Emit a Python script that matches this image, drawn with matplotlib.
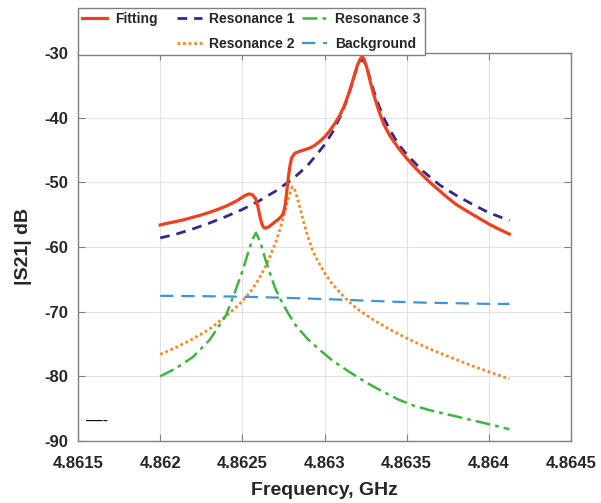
import numpy as np
import matplotlib
matplotlib.use("Agg")
import matplotlib.pyplot as plt
from matplotlib.lines import Line2D

plt.rcParams['font.family'] = ['Liberation Sans', 'DejaVu Sans']
plt.rcParams['font.weight'] = 'bold'
plt.rcParams['axes.unicode_minus'] = False

# Fitting curve (red)
fit_f = [4.86200, 4.86205, 4.86210, 4.86215, 4.86220, 4.86225, 4.86230, 4.86235,
         4.86240, 4.86244, 4.86247, 4.86250, 4.86252, 4.86254, 4.86256, 4.86258,
         4.86259, 4.86260, 4.86261, 4.86262, 4.86263, 4.86264, 4.86266, 4.86268,
         4.86270, 4.86272, 4.86274, 4.86275, 4.86276, 4.86277, 4.86278, 4.86279,
         4.86280, 4.86282, 4.86285, 4.86288, 4.86291, 4.86294, 4.86297, 4.86300,
         4.86303, 4.86306, 4.86309, 4.86312, 4.86315, 4.86318, 4.86320, 4.86322,
         4.86323, 4.86324, 4.86326, 4.86328, 4.86330, 4.86333, 4.86336, 4.86340,
         4.86345, 4.86350, 4.86355, 4.86360, 4.86365, 4.86370, 4.86375, 4.86380,
         4.86385, 4.86390, 4.86395, 4.86400, 4.86405, 4.86410, 4.864125]
fit_db = [-56.6, -56.3, -56.05, -55.75, -55.4, -55.05, -54.65, -54.2,
          -53.7, -53.2, -52.8, -52.3, -52.0, -51.8, -51.9, -52.5,
          -53.3, -54.4, -55.6, -56.5, -57.0, -57.1, -56.9, -56.5,
          -56.1, -55.7, -55.2, -54.7, -53.6, -51.5, -49.2, -47.4,
          -46.2, -45.5, -45.2, -44.95, -44.7, -44.3, -43.7, -43.0,
          -42.1, -41.0, -39.8, -38.2, -36.1, -33.6, -31.9, -30.8,
          -30.6, -30.9, -32.5, -34.6, -36.5, -38.9, -41.0, -42.9,
          -44.7, -46.3, -47.7, -49.0, -50.2, -51.3, -52.4, -53.4,
          -54.2, -54.95, -55.7, -56.45, -57.1, -57.7, -58.0]

# Resonance 1 (navy dashed)
res1_f = [4.86200, 4.86210, 4.86220, 4.86230, 4.86240, 4.86250, 4.86260, 4.86270,
          4.86280, 4.86285, 4.86290, 4.86295, 4.86300, 4.86305, 4.86310, 4.86313,
          4.86316, 4.86319, 4.86321, 4.863227, 4.86325, 4.86327, 4.86330, 4.86333,
          4.86336, 4.86340, 4.86345, 4.86350, 4.86360, 4.86370, 4.86380, 4.86390,
          4.86400, 4.864125]
res1_db = [-58.6, -58.0, -57.2, -56.3, -55.3, -54.2, -52.9, -51.4,
           -49.6, -48.5, -47.3, -45.8, -44.2, -42.2, -39.6, -37.7,
           -35.4, -32.8, -31.6, -30.9, -31.7, -33.3, -35.9, -38.1,
           -40.0, -42.0, -44.1, -45.7, -48.3, -50.4, -52.0, -53.4,
           -54.7, -55.9]

# Resonance 2 (orange dotted)
res2_f = [4.86200, 4.86210, 4.86220, 4.86230, 4.86240, 4.86245, 4.86250, 4.86255,
          4.86260, 4.86265, 4.86270, 4.86273, 4.86276, 4.86278, 4.86280, 4.862805,
          4.86282, 4.86284, 4.86286, 4.86288, 4.86290, 4.86293, 4.86296, 4.86300,
          4.86305, 4.86310, 4.86315, 4.86320, 4.86330, 4.86340, 4.86350, 4.86360,
          4.86370, 4.86380, 4.86390, 4.86400, 4.864125]
res2_db = [-76.6, -75.5, -74.2, -72.7, -70.7, -69.6, -68.4, -66.9,
           -65.0, -62.6, -59.5, -57.2, -54.4, -52.4, -51.0, -50.7,
           -51.2, -52.9, -54.9, -56.8, -58.5, -60.7, -62.2, -64.0,
           -65.8, -67.2, -68.5, -69.6, -71.3, -72.8, -74.1, -75.3,
           -76.4, -77.4, -78.4, -79.3, -80.4]

# Resonance 3 (green dash-dot)
res3_f = [4.86200, 4.86210, 4.86220, 4.86230, 4.86240, 4.86245, 4.86250, 4.86253,
          4.86256, 4.862583, 4.86261, 4.86264, 4.86267, 4.86270, 4.86274, 4.86278,
          4.86283, 4.86290, 4.86297, 4.86305, 4.86315, 4.86325, 4.86335, 4.86345,
          4.86355, 4.86365, 4.86375, 4.86385, 4.86395, 4.86405, 4.864125]
res3_db = [-80.0, -78.7, -77.0, -74.4, -70.6, -67.3, -63.8, -61.3,
           -58.9, -57.8, -59.3, -61.9, -64.2, -66.4, -68.5, -70.3,
           -72.3, -74.3, -75.9, -77.6, -79.3, -80.9, -82.3, -83.6,
           -84.6, -85.3, -85.9, -86.5, -87.1, -87.7, -88.2]

# Background (light blue dashed)
bg_f = [4.86200, 4.86220, 4.86240, 4.86260, 4.86280, 4.86300, 4.86320, 4.86340,
        4.86360, 4.86380, 4.86400, 4.864125]
bg_db = [-67.55, -67.6, -67.65, -67.75, -67.9, -68.05, -68.25, -68.45,
         -68.6, -68.7, -68.8, -68.8]

xticks = [4.8615, 4.862, 4.8625, 4.863, 4.8635, 4.864, 4.8645]
xticklabels = ['4.8615', '4.862', '4.8625', '4.863', '4.8635', '4.864', '4.8645']
yticks = [-90, -80, -70, -60, -50, -40, -30]

fig = plt.figure(figsize=(6.01, 5.03), dpi=100)
ax = fig.add_axes([0.1298, 0.1233, 0.8203, 0.7714])

ax.plot(fit_f, fit_db, color='#f0401e', lw=2.3, label='Fitting', zorder=5)
ax.plot(res1_f, res1_db, color='#2e2a90', lw=2.0, ls=(0, (3.5, 2.5)), label='Resonance 1', zorder=4)
ax.plot(res2_f, res2_db, color='#f58a25', lw=2.0, ls=(0, (1, 1)), label='Resonance 2', zorder=3)
ax.plot(res3_f, res3_db, color='#3fb53f', lw=1.8, ls=(0, (6, 2, 1.5, 2)), label='Resonance 3', zorder=3)
ax.plot(bg_f, bg_db, color='#3d93dc', lw=1.6, ls=(0, (6, 3.5)), label='Background', zorder=3)

ax.set_xlim(4.8615, 4.8645)
ax.set_ylim(-90, -30)
ax.set_xticks(xticks)
ax.set_xticklabels(xticklabels)
ax.set_yticks(yticks)
ax.tick_params(direction='in', length=5, width=0.8, color='#808080',
               top=True, right=True, labelsize=12, labelcolor='#262626')
ax.tick_params(axis='x', pad=11)
ax.tick_params(axis='y', pad=7)
ax.grid(True, color='#e3e3e3', lw=0.8)
ax.set_axisbelow(True)
for s in ax.spines.values():
    s.set_color('#808080')
    s.set_linewidth(1.0)

ax.set_xlabel('Frequency, GHz', fontsize=14, fontweight='bold', color='#262626', labelpad=8)
ax.set_ylabel('|S21| dB', fontsize=14, fontweight='bold', color='#262626', labelpad=9)

# small stray mark in the lower left corner
ax.text(0.017, 0.038, '\u2014-', transform=ax.transAxes, fontsize=12,
        fontweight='normal', color='black')

h, l = ax.get_legend_handles_labels()
blank = Line2D([], [], color='none')
order = [h[0], blank, h[1], h[2], h[3], h[4]]
labs = [l[0], ' ' * 14, l[1], l[2], l[3], l[4]]
leg = ax.legend(order, labs, ncol=3, loc='lower left', bbox_to_anchor=(0, 0.995),
                borderaxespad=0, fontsize=10, frameon=True, fancybox=False,
                edgecolor='#808080', framealpha=1, handlelength=1.8,
                columnspacing=0.55, handletextpad=0.55, labelspacing=0.75,
                borderpad=0.3)
leg.get_frame().set_linewidth(1.0)
for t in leg.get_texts():
    t.set_color('#262626')

fig.savefig('out.png', dpi=100)
